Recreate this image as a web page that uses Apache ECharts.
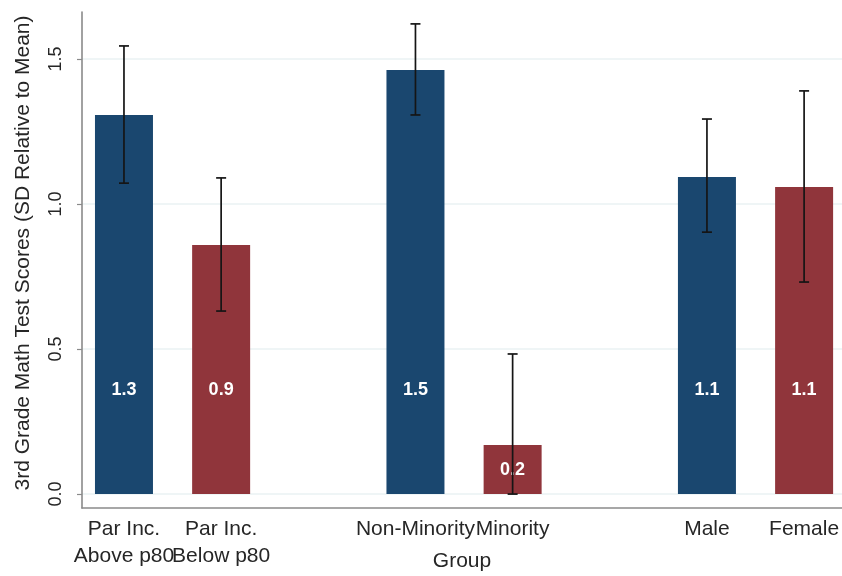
<!DOCTYPE html>
<html>
<head>
<meta charset="utf-8">
<title>3rd Grade Math Test Scores by Group</title>
<script src="https://cdn.jsdelivr.net/npm/echarts@6/dist/echarts.min.js"></script>
<style>
  html, body { margin: 0; padding: 0; background: #ffffff; }
  #chart { width: 842px; height: 576px; }
</style>
</head>
<body>
<div id="chart"></div>
<script>
// Group labels, in plotting order (pairs: Par Inc., Minority status, Sex)
const categories = ['Par Inc.\nAbove p80', 'Par Inc.\nBelow p80', 'Non-Minority', 'Minority', 'Male', 'Female'];
// Slot of each bar along the x axis: two bars per group, one empty slot between groups
const slots = [0, 1, 3, 4, 6, 7];
// Mean score (SD relative to mean)
const means = [1.307, 0.859, 1.462, 0.169, 1.093, 1.059];
// Confidence interval bounds
const lower = [1.072, 0.631, 1.307, 0.000, 0.903, 0.731];
const upper = [1.545, 1.090, 1.621, 0.483, 1.293, 1.390];
// Value printed inside each bar
const barLabels = ['1.3', '0.9', '1.5', '0.2', '1.1', '1.1'];
// Y-axis tick values
const yTicks = [0, 0.5, 1.0, 1.5];

const BLUE = '#1a476f';
const RED = '#90353b';
const FONT = "'Liberation Sans', Arial, Helvetica, sans-serif";
const TEXT = '#262626';
const AXIS = '#8a8a8a';
const X_MIN = -0.432;
const X_MAX = 7.39;

// First and second bar of each pair get their own label row so that
// neighbouring two-line labels are never dropped as overlapping.
const firstSlots = slots.filter((s, i) => i % 2 === 0);
const secondSlots = slots.filter((s, i) => i % 2 === 1);

const barData = means.map((v, i) => ({
  value: [slots[i], v],
  itemStyle: { color: i % 2 === 0 ? BLUE : RED },
  label: v > 0.5
    ? { position: 'insideBottom', distance: 95 }
    : { position: 'inside' }
}));

const errData = means.map((v, i) => [slots[i], lower[i], upper[i]]);

function categoryLabel(v) {
  const i = slots.indexOf(Math.round(v));
  return i >= 0 ? categories[i] : '';
}

const labelStyle = {
  margin: 8,
  fontSize: 21,
  lineHeight: 27,
  color: TEXT,
  fontFamily: FONT,
  hideOverlap: false,
  formatter: categoryLabel
};

const chart = echarts.init(document.getElementById('chart'), null, { renderer: 'canvas' });

chart.setOption({
  backgroundColor: '#ffffff',
  animation: false,
  textStyle: { fontFamily: FONT },
  grid: { left: 82, right: 0, top: 12, bottom: 68, containLabel: false, outerBoundsMode: 'none' },
  xAxis: [
    {
      type: 'value',
      position: 'bottom',
      min: X_MIN,
      max: X_MAX,
      name: 'Group',
      nameLocation: 'middle',
      nameGap: 43,
      nameMoveOverlap: false,
      nameTextStyle: { fontSize: 21, color: TEXT, fontFamily: FONT },
      axisLine: { show: true, onZero: false, lineStyle: { color: AXIS, width: 1.6 } },
      axisTick: { show: false, customValues: firstSlots },
      splitLine: { show: false },
      axisLabel: Object.assign({ customValues: firstSlots }, labelStyle)
    },
    {
      type: 'value',
      position: 'bottom',
      offset: 0,
      min: X_MIN,
      max: X_MAX,
      axisLine: { show: false, onZero: false },
      axisTick: { show: false, customValues: secondSlots },
      splitLine: { show: false },
      axisLabel: Object.assign({ customValues: secondSlots }, labelStyle)
    }
  ],
  yAxis: {
    type: 'value',
    min: -0.048,
    max: 1.662,
    name: '3rd Grade Math Test Scores (SD Relative to Mean)',
    nameLocation: 'middle',
    nameRotate: 90,
    nameGap: 48,
    nameMoveOverlap: false,
    nameTextStyle: { fontSize: 21, color: TEXT, fontFamily: FONT, padding: [0, 0, 0, 14] },
    axisLine: { show: true, onZero: false, lineStyle: { color: AXIS, width: 1.6 } },
    axisTick: { show: true, length: 5, customValues: yTicks, lineStyle: { color: AXIS, width: 1.2 } },
    splitLine: { show: true, lineStyle: { color: '#eaf2f3', width: 1.5 } },
    axisLabel: {
      customValues: yTicks,
      rotate: 90,
      margin: 17,
      fontSize: 18,
      color: TEXT,
      fontFamily: FONT,
      formatter: (v) => v.toFixed(1)
    }
  },
  series: [
    {
      type: 'bar',
      xAxisIndex: 0,
      barWidth: 58,
      data: barData,
      label: {
        show: true,
        color: '#ffffff',
        fontWeight: 'bold',
        fontSize: 18,
        fontFamily: FONT,
        formatter: (p) => barLabels[p.dataIndex]
      },
      z: 2
    },
    {
      type: 'custom',
      xAxisIndex: 0,
      data: errData,
      z: 5,
      renderItem: (params, api) => {
        const x = api.value(0);
        const lo = api.coord([x, api.value(1)]);
        const hi = api.coord([x, api.value(2)]);
        const cap = 5;
        const style = { stroke: '#151515', lineWidth: 1.7 };
        return {
          type: 'group',
          children: [
            { type: 'line', shape: { x1: lo[0], y1: lo[1], x2: hi[0], y2: hi[1] }, style },
            { type: 'line', shape: { x1: hi[0] - cap, y1: hi[1], x2: hi[0] + cap, y2: hi[1] }, style },
            { type: 'line', shape: { x1: lo[0] - cap, y1: lo[1], x2: lo[0] + cap, y2: lo[1] }, style }
          ]
        };
      }
    }
  ]
});
</script>
</body>
</html>
